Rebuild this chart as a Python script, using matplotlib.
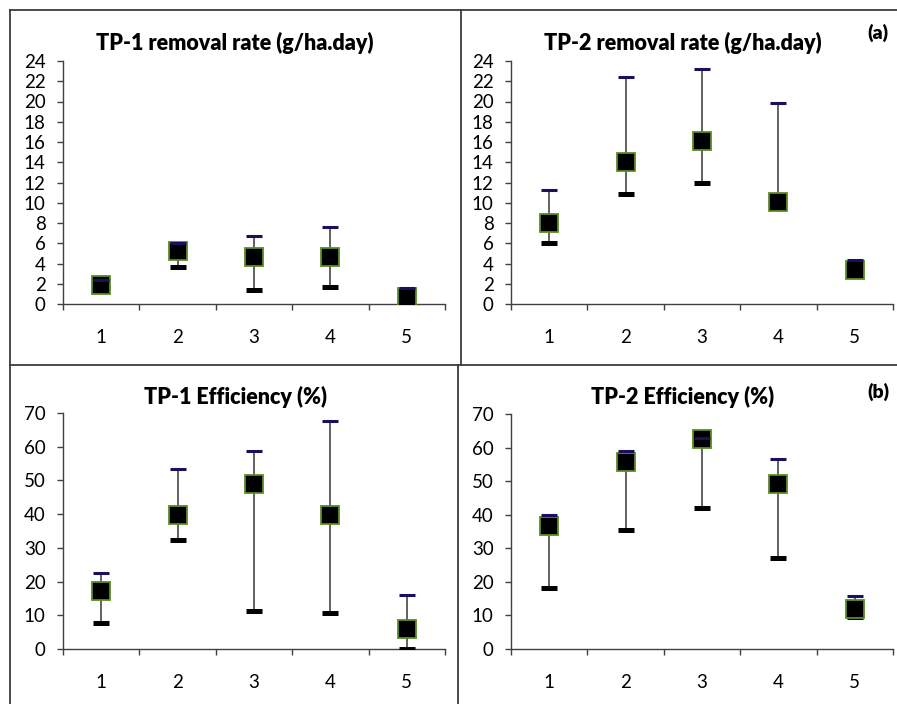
import matplotlib
matplotlib.use("Agg")
import matplotlib.pyplot as plt
from matplotlib.lines import Line2D

plt.rcParams['font.family'] = ['Lato', 'DejaVu Sans']

cats = [1, 2, 3, 4, 5]
cat_labels = ['1', '2', '3', '4', '5']

# TP-1 removal rate (g/ha.day)
tp1_rate_high = [2.4, 6.05, 6.7, 7.6, 1.6]
tp1_rate_low = [1.3, 3.7, 1.4, 1.7, 0.0]
tp1_rate_mean = [1.85, 5.2, 4.65, 4.6, 0.7]

# TP-2 removal rate (g/ha.day)
tp2_rate_high = [11.3, 22.4, 23.2, 19.9, 4.3]
tp2_rate_low = [6.0, 10.9, 12.0, 9.8, 3.0]
tp2_rate_mean = [8.0, 14.0, 16.1, 10.1, 3.4]

# TP-1 Efficiency (%)
tp1_eff_high = [22.6, 53.4, 58.7, 67.7, 16.0]
tp1_eff_low = [7.6, 32.2, 11.2, 10.8, 0.0]
tp1_eff_mean = [17.3, 39.7, 48.8, 39.6, 5.8]

# TP-2 Efficiency (%)
tp2_eff_high = [40.0, 59.0, 62.8, 56.7, 15.7]
tp2_eff_low = [18.3, 35.4, 42.1, 27.0, 9.5]
tp2_eff_mean = [36.6, 55.8, 62.5, 49.1, 12.0]

W, H = 897, 704
fig = plt.figure(figsize=(W / 100, H / 100), dpi=100)


def px_axes(x0, y0, x1, y1):
    return fig.add_axes([x0 / W, 1 - y1 / H, (x1 - x0) / W, (y1 - y0) / H])


def draw(ax, high, low, mean, ymax, ystep, title, tx, ty):
    ax.vlines(cats, low, high, color='#555555', lw=1.3, zorder=2)
    ax.plot(cats, low, ls='none', marker='_', ms=11, mew=3.6, color='black', zorder=3)
    ax.plot(cats, mean, ls='none', marker='s', ms=12.5, mfc='black', mec='#5b8c23', mew=1.3, zorder=4)
    ax.plot(cats, high, ls='none', marker='_', ms=11, mew=2.2, color='#1c0f5e', zorder=5)
    ax.set_xlim(0.5, 5.5)
    ax.set_ylim(0, ymax)
    ax.set_yticks(range(0, ymax + 1, ystep))
    ax.set_xticks([0.5, 1.5, 2.5, 3.5, 4.5, 5.5])
    ax.set_xticklabels([])
    ax.set_xticks(cats, minor=True)
    ax.set_xticklabels(cat_labels, minor=True)
    for s in ['top', 'right']:
        ax.spines[s].set_visible(False)
    for s in ['left', 'bottom']:
        ax.spines[s].set_color('#404040')
        ax.spines[s].set_linewidth(1.0)
    ax.tick_params(axis='both', which='major', direction='out', length=4.5, width=1.0,
                   color='#404040', labelsize=13.5, pad=8)
    ax.tick_params(axis='x', which='minor', length=0, labelsize=13.5, pad=18)
    ax.patch.set_alpha(0)
    fig.text(tx / W, 1 - ty / H, title, ha='center', va='center', fontsize=15.5, fontweight='heavy')


ax1 = px_axes(63, 61, 445, 304)
draw(ax1, tp1_rate_high, tp1_rate_low, tp1_rate_mean, 24, 2, 'TP-1 removal rate (g/ha.day)', 235, 43)
ax2 = px_axes(511, 61, 893, 304)
draw(ax2, tp2_rate_high, tp2_rate_low, tp2_rate_mean, 24, 2, 'TP-2 removal rate (g/ha.day)', 683, 43)
ax3 = px_axes(63, 413, 445, 649)
draw(ax3, tp1_eff_high, tp1_eff_low, tp1_eff_mean, 70, 10, 'TP-1 Efficiency (%)', 236, 397)
ax4 = px_axes(511, 414, 893, 649)
draw(ax4, tp2_eff_high, tp2_eff_low, tp2_eff_mean, 70, 10, 'TP-2 Efficiency (%)', 683, 397)

fig.text(878 / W, 1 - 33 / H, '(a)', ha='center', va='center', fontsize=14, fontweight='heavy')
fig.text(878 / W, 1 - 392 / H, '(b)', ha='center', va='center', fontsize=14, fontweight='heavy')

# panel borders
borders = [
    ((10, 897), (10, 10)),
    ((10, 10), (10, 704)),
    ((461, 461), (10, 365)),
    ((10, 897), (365, 365)),
    ((458, 458), (365, 704)),
]
for xs, ys in borders:
    fig.add_artist(Line2D([x / W for x in xs], [1 - y / H for y in ys], color='#3c3c3c', lw=1.3))

fig.savefig('out.png', dpi=100)
